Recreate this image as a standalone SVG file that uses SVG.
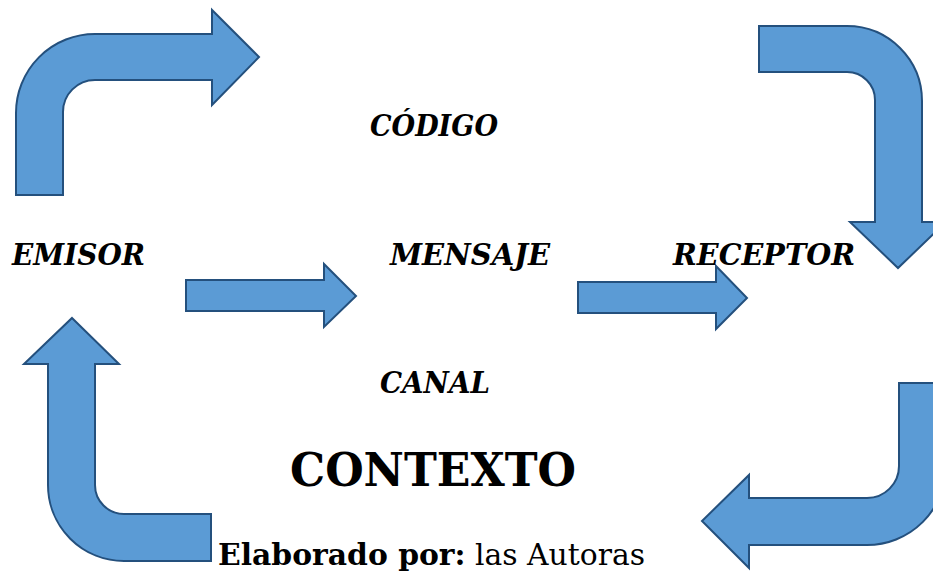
<svg xmlns="http://www.w3.org/2000/svg" width="933" height="571" viewBox="0 0 933 571">
<style>
.arr{fill:#5B9BD5;stroke:#24507D;stroke-width:2;stroke-linejoin:miter}
.lbl{font-family:"DejaVu Serif","Liberation Serif",serif;font-weight:bold;font-style:italic;font-size:29px;fill:#000}
.ctx{font-family:"DejaVu Serif","Liberation Serif",serif;font-weight:bold;font-size:47px;fill:#000}
.src{font-family:"DejaVu Serif","Liberation Serif",serif;font-size:30px;fill:#000}
</style>
<rect width="933" height="571" fill="#fff"/>
<g id="connectors">
<path class="arr" d="M16,195 L16,113 A79,79 0 0 1 95,34 L212,34 L212,10 L259,57 L212,105 L212,80 L95,80 A32,32 0 0 0 63,112 L63,195 Z"/>
<path class="arr" d="M759,26 L847,26 A75,75 0 0 1 922,101 L922,222 L946,222 L898,268 L850,222 L875,222 L875,100 A28,28 0 0 0 847,72 L759,72 Z"/>
<path class="arr" d="M899,383 L946,383 L946,466 A79,79 0 0 1 867,545 L749,545 L749,568 L702,521 L749,475 L749,498 L867,498 A32,32 0 0 0 899,466 Z"/>
<path class="arr" d="M72,318 L119,364 L95,364 L95,485 A29,29 0 0 0 124,514 L211,514 L211,561 L124,561 A76,76 0 0 1 48,485 L48,364 L24,364 Z"/>
<path class="arr" d="M186,280 L324,280 L324,264 L356,296 L324,327 L324,311 L186,311 Z"/>
<path class="arr" d="M578,282 L716,282 L716,266 L747,298 L716,329 L716,313 L578,313 Z"/>
</g>
<g id="codigo"><text class="lbl" x="370" y="136" textLength="128" lengthAdjust="spacingAndGlyphs">CÓDIGO</text></g>
<g id="emisor"><text class="lbl" x="12" y="265" textLength="133" lengthAdjust="spacingAndGlyphs">EMISOR</text></g>
<g id="mensaje"><text class="lbl" x="390" y="265" textLength="160" lengthAdjust="spacingAndGlyphs">MENSAJE</text></g>
<g id="receptor"><text class="lbl" x="673" y="265" textLength="182" lengthAdjust="spacingAndGlyphs">RECEPTOR</text></g>
<g id="canal"><text class="lbl" x="380" y="393" textLength="110" lengthAdjust="spacingAndGlyphs">CANAL</text></g>
<g id="contexto"><text class="ctx" x="290" y="486" textLength="286" lengthAdjust="spacingAndGlyphs">CONTEXTO</text></g>
<g id="fuente"><text class="src" x="218" y="565" textLength="427" lengthAdjust="spacingAndGlyphs"><tspan font-weight="bold">Elaborado por:</tspan> las Autoras</text></g>
</svg>
